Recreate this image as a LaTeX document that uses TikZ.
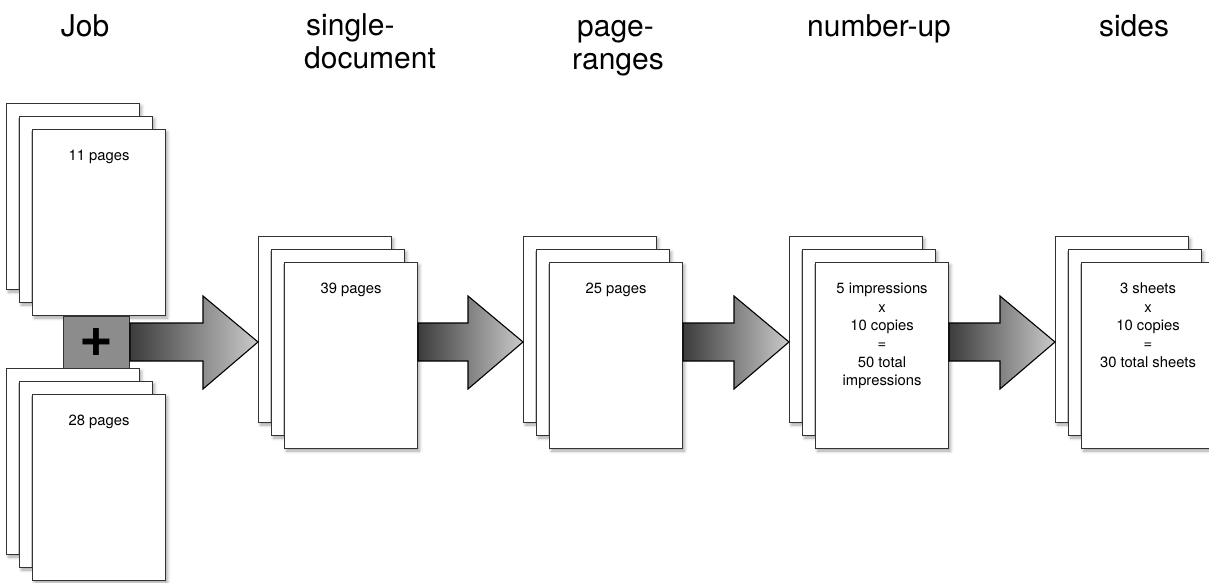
\documentclass[tikz,border=0pt]{standalone}
\usepackage{fontspec}
\setmainfont{TeX Gyre Heros}
\usetikzlibrary{shadows.blur,calc}
\definecolor{sheetline}{HTML}{333333}
\definecolor{arrowdark}{HTML}{3C3C3C}
\definecolor{arrowlight}{HTML}{CACACA}
\definecolor{plusfill}{HTML}{8C8C8C}
\newcommand\firstline{\rule{0pt}{12pt}}
\newcommand\titleline{\rule{0pt}{24pt}}
\newcommand\fatarrow[2]{\path[fatarrow] let \p1=(#1.east), \p2=(#2.west) in
  (\x1,-323pt) -- ({\x2-55pt},-323pt) -- ({\x2-55pt},-296pt) -- (\x2,-342pt) --
  ({\x2-55pt},-389pt) -- ({\x2-55pt},-361pt) -- (\x1,-361pt) -- cycle;}
\tikzset{
  sheet/.style={draw=sheetline, line width=1pt, fill=white, minimum width=133pt,
    minimum height=186pt, inner sep=0pt, anchor=north west,
    blur shadow={shadow xshift=2pt, shadow yshift=-2.5pt, shadow blur radius=3pt, shadow opacity=35}},
  sheettext/.style={anchor=north, inner sep=0pt, align=center,
    font=\fontsize{14.8}{18.4}\selectfont},
  title/.style={inner sep=0pt, font=\fontsize{30}{33}\selectfont},
  fatarrow/.style={draw=black, line width=1.1pt, line join=miter,
    left color=arrowdark, right color=arrowlight},
  plusbox/.style={draw=sheetline, line width=1pt, fill=plusfill, minimum width=66pt,
    minimum height=52pt, inner sep=0pt, anchor=north west,
    font=\fontsize{58}{58}\selectfont\bfseries}
}
\begin{document}
\begin{tikzpicture}[x=1pt,y=-1pt]
\useasboundingbox (0,0) rectangle (1209,583);
% titles
\node[title, anchor=north] (tjob) at (85,12) {\titleline Job};
\node[title, anchor=north west, align=left] (tsingle) at (304,11) {\titleline\hspace*{2pt}single-\\document};
\node[title, anchor=north west, align=left] (tpage) at (572,12) {\titleline\hspace*{5pt}page-\\ranges};
\node[title, anchor=north] (tnup) at (879,12) {\titleline number-up};
\node[title, anchor=north] (tsides) at (1134,12) {\titleline sides};
% job: top stack
\node[sheet] (ja) at (6,103) {};
\node[sheet] (jb) at (19,116) {};
\node[sheet] (jc) at (32,129) {};
\node[sheettext] (jt) at ([yshift=-19.5pt]jc.north) {\firstline 11 pages};
% job: bottom stack
\node[sheet] (ka) at (6,368) {};
\node[sheet] (kb) at (19,381) {};
\node[sheet] (kc) at (32,394) {};
\node[sheettext] (kt) at ([yshift=-19.5pt]kc.north) {\firstline 28 pages};
% plus box
\node[plusbox] (plus) at (63,316) {+};
% single-document
\node[sheet] (sa) at (258,236) {};
\node[sheet] (sb) at (271,249) {};
\node[sheet] (sc) at (284,262) {};
\node[sheettext] (st) at ([yshift=-19.5pt]sc.north) {\firstline 39 pages};
% page-ranges
\node[sheet] (pa) at (523,236) {};
\node[sheet] (pb) at (536,249) {};
\node[sheet] (pc) at (549,262) {};
\node[sheettext] (pt) at ([yshift=-19.5pt]pc.north) {\firstline 25 pages};
% number-up
\node[sheet] (na) at (789,236) {};
\node[sheet] (nb) at (802,249) {};
\node[sheet] (nc) at (815,262) {};
\node[sheettext] (nt) at ([yshift=-19.5pt]nc.north) {\firstline 5 impressions\\x\\10 copies\\=\\50 total\\impressions};
% sides
\node[sheet] (da) at (1055,236) {};
\node[sheet] (db) at (1068,249) {};
\node[sheet] (dc) at (1081,262) {};
\node[sheettext] (dt) at ([yshift=-19.5pt]dc.north) {\firstline 3 sheets\\x\\10 copies\\=\\30 total sheets};
% arrows
\fatarrow{plus}{sa}
\fatarrow{sc}{pa}
\fatarrow{pc}{na}
\fatarrow{nc}{da}
\end{tikzpicture}
\end{document}
